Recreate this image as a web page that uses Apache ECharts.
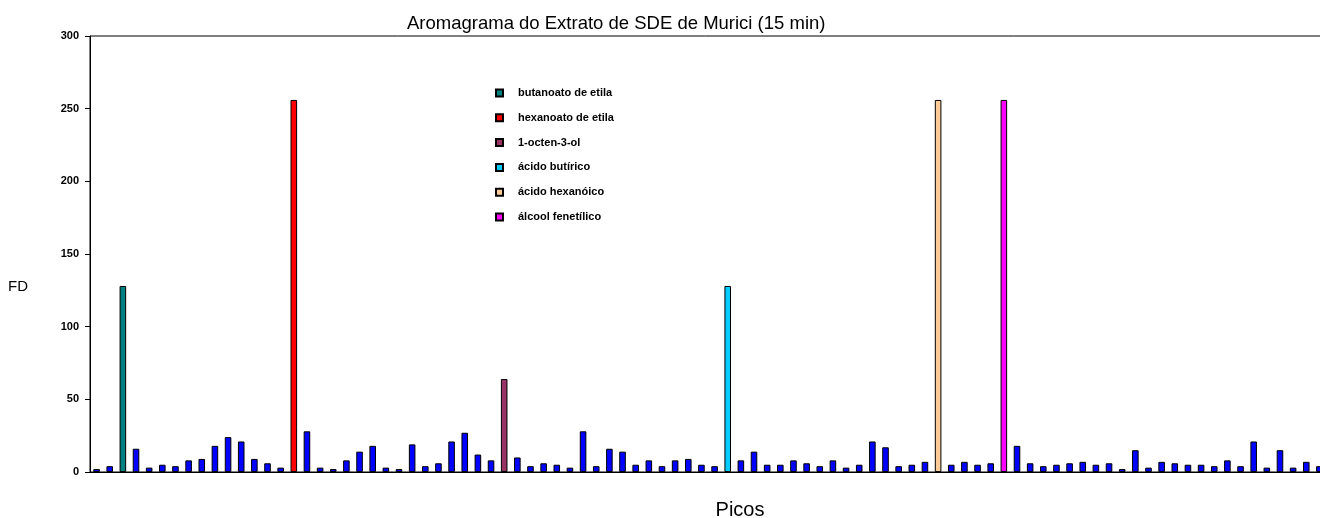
<!DOCTYPE html>
<html>
<head>
<meta charset="utf-8">
<script src="https://cdn.jsdelivr.net/npm/echarts@6/dist/echarts.min.js"></script>
<style>html,body{margin:0;padding:0;background:#fff}#c{width:1320px;height:518px}</style>
</head>
<body>
<div id="c"></div>
<script>
const categories = ['1','2','3','4','5','6','7','8','9','10','11','12','13','14','15','16','17','18','19','20',
'21','22','23','24','25','26','27','28','29','30','31','32','33','34','35','36','37','38','39','40',
'41','42','43','44','45','46','47','48','49','50','51','52','53','54','55','56','57','58','59','60',
'61','62','63','64','65','66','67','68','69','70','71','72','73','74','75','76','77','78','79','80',
'81','82','83','84','85','86','87','88','89','90','91','92','93','94'];
const fdValues = [2,4,128,16,3,5,4,8,9,18,24,21,9,6,3,256,28,3,2,8,14,18,3,
2,19,4,6,21,27,12,8,64,10,4,6,5,3,28,4,16,14,5,8,4,8,9,
5,4,128,8,14,5,5,8,6,4,8,3,5,21,17,4,5,7,256,5,7,5,6,256,
18,6,4,5,6,7,5,6,2,15,3,7,6,5,5,4,8,4,21,3,15,3,7,4];
const compoundNames = ['butanoato de etila','hexanoato de etila','1-octen-3-ol','ácido butírico','ácido hexanóico','álcool fenetílico'];
const compoundPeaks = [2,15,31,48,64,69];
const compoundColors = ['#008080','#FF0000','#993366','#00CCFF','#FFCC99','#FF00FF'];
const yTicks = [0,50,100,150,200,250,300];
const titleText = 'Aromagrama do Extrato de SDE de Murici (15 min)';
const xAxisTitle = 'Picos';
const yAxisTitle = 'FD';

const chart = echarts.init(document.getElementById('c'));
const baseData = fdValues.map((v,i)=> compoundPeaks.includes(i) ? null : v);
const series = [{
  name: 'outros', type: 'bar', stack: 'fd', data: baseData, barWidth: '50%',
  itemStyle: {color: '#0000FF', borderColor: '#000', borderWidth: 1}
}];
compoundNames.forEach((n,k)=>{
  series.push({
    name: n, type: 'bar', stack: 'fd', barWidth: '50%',
    data: fdValues.map((v,i)=> i===compoundPeaks[k] ? v : null),
    itemStyle: {color: compoundColors[k], borderColor: '#000', borderWidth: 1}
  });
});
const FONT = 'Arial, "Liberation Sans", sans-serif';
chart.setOption({
  animation: false,
  title: {text: titleText, left: 407, top: 14, padding: 0,
    textStyle: {fontFamily: FONT, fontSize: 18.5, fontWeight: 'normal', color: '#000', lineHeight: 19}},
  legend: {
    data: compoundNames, orient: 'vertical', left: 490, top: 81, itemWidth: 7, itemHeight: 7,
    itemGap: 10.8, icon: 'rect',
    textStyle: {fontFamily: FONT, fontSize: 11, fontWeight: 'bold', color: '#000', lineHeight: 14, padding: [0,0,0,10]}
  },
  graphic: [
    {type: 'text', x: 740, y: 510, style: {text: xAxisTitle, font: '20px ' + FONT, fill: '#000', textAlign: 'center', textVerticalAlign: 'middle'}},
    {type: 'text', x: 18, y: 287, style: {text: yAxisTitle, font: '15px ' + FONT, fill: '#000', textAlign: 'center', textVerticalAlign: 'middle'}}
  ],
  grid: {left: 90, right: -6, top: 36, bottom: 46, show: true, borderColor: '#000', borderWidth: 1, outerBoundsMode: 'none'},
  xAxis: {
    type: 'category', data: categories,
    axisLine: {lineStyle: {color: '#000', width: 1}}, axisTick: {show: false}, axisLabel: {show: false}
  },
  yAxis: {
    type: 'value', min: yTicks[0], max: yTicks[yTicks.length-1], interval: 50,
    axisLine: {show: true, lineStyle: {color: '#000', width: 1}},
    axisTick: {show: true, length: 5, lineStyle: {color: '#000'}},
    axisLabel: {fontFamily: FONT, fontSize: 11, fontWeight: 'bold', color: '#000', margin: 11},
    splitLine: {show: false}
  },
  series: series
});
</script>
</body>
</html>
